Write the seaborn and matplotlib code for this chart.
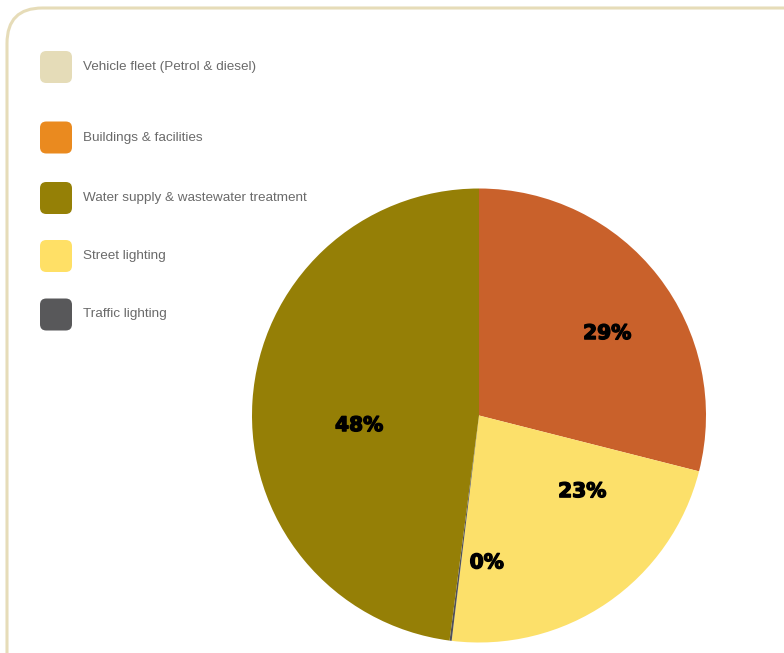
import numpy as np
import matplotlib
matplotlib.use("Agg")
import matplotlib.pyplot as plt
from matplotlib.patches import FancyBboxPatch
import matplotlib.patheffects as pe
import seaborn as sns

# Energy use by sector (share of total, %)
legend_labels = [
    "Vehicle fleet (Petrol & diesel)",
    "Buildings & facilities",
    "Water supply & wastewater treatment",
    "Street lighting",
    "Traffic lighting",
]
legend_colors = ["#E5DCB8", "#EA8A1F", "#958006", "#FFE066", "#58585A"]

pie_sectors = ["Buildings & facilities", "Street lighting", "Traffic lighting",
               "Water supply & wastewater treatment"]
pie_values = [29, 23, 0.15, 48]
pie_colors = ["#C9612B", "#FCE06A", "#505058", "#957F06"]

# label placement inside the pie: (radius fraction, angle in degrees)
label_polar = [(0.67, 32.6), (0.565, -36.4), (0.65, -87.0), (0.53, 184.8)]

sns.set_theme(style="white")
plt.rcParams["font.family"] = ["Liberation Sans", "DejaVu Sans"]

W, H = 784, 653
fig = plt.figure(figsize=(W / 100, H / 100), dpi=100)
fig.patch.set_facecolor("white")

# rounded frame around the panel
frame = FancyBboxPatch((7 / W, 1 - 800 / H), 900 / W, 792 / H,
                       boxstyle="round,pad=0,rounding_size=0.045",
                       transform=fig.transFigure, facecolor="none",
                       edgecolor="#E6DCB8", linewidth=2.2, mutation_aspect=W / H)
fig.patches.append(frame)

# legend: rounded colour swatches with grey text
leg_y = [67, 137.5, 198, 256, 314.5]
for lab, col, yc in zip(legend_labels, legend_colors, leg_y):
    sw = FancyBboxPatch((40 / W, 1 - (yc + 16) / H), 32 / W, 32 / H,
                        boxstyle="round,pad=0,rounding_size=0.008",
                        transform=fig.transFigure, facecolor=col,
                        edgecolor="none", mutation_aspect=W / H)
    fig.patches.append(sw)
    fig.text(83 / W, 1 - yc / H, lab, ha="left", va="center",
             fontsize=9.7, color="#6A6A6A", family="Liberation Sans")

# pie
cx, cy, r = 479, 415.5, 227
ax = fig.add_axes([(cx - r) / W, 1 - (cy + r) / H, 2 * r / W, 2 * r / H])
wedges, texts, autotexts = ax.pie(
    pie_values, colors=pie_colors, startangle=90, counterclock=False,
    autopct="%.0f%%", pctdistance=0.6,
    wedgeprops=dict(linewidth=0),
    textprops=dict(fontsize=14.5, fontweight="heavy", color="black",
                   family="DejaVu Sans"),
)
for t, (rr, ang) in zip(autotexts, label_polar):
    a = np.deg2rad(ang)
    t.set_position((rr * np.cos(a), rr * np.sin(a)))
    t.set_path_effects([pe.withStroke(linewidth=1.0, foreground="black")])
ax.set_xlim(-1, 1)
ax.set_ylim(-1, 1)
ax.set_aspect("equal")
ax.axis("off")

fig.savefig("out.png", dpi=100, facecolor="white")
